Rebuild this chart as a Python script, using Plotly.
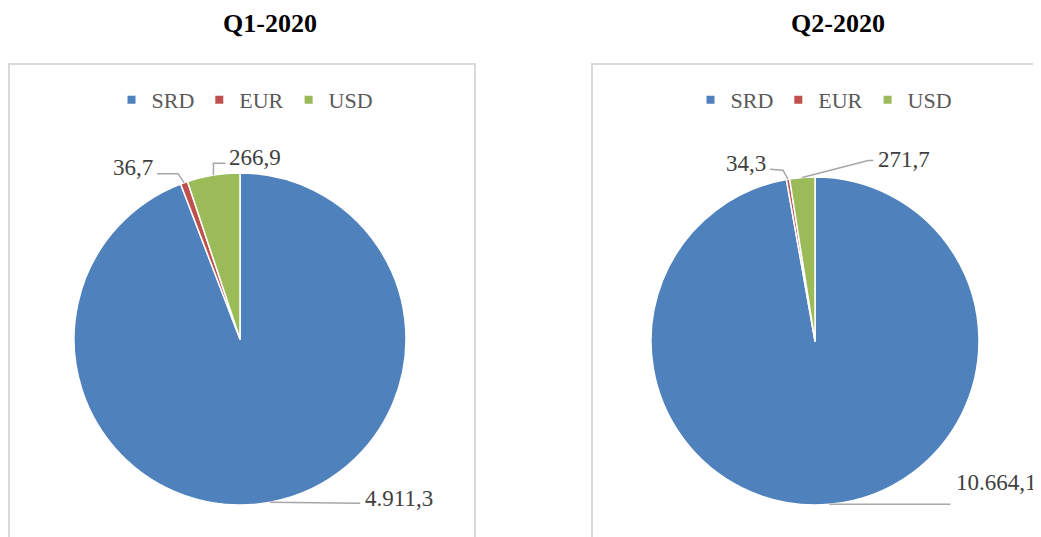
import math
import plotly.graph_objects as go

# ---------------- data ----------------
currencies = ["SRD", "EUR", "USD"]
q1_values = [4911.3, 36.7, 266.9]
q2_values = [10664.1, 34.3, 271.7]
titles = ["Q1-2020", "Q2-2020"]
colors = ["#4F81BD", "#C0504D", "#9BBB59"]

# ---------------- layout constants (pixels, page coordinates) ----------------
PAGE_W, PAGE_H = 1041, 537
OFF = 8  # default body margin of the html page
W, H = PAGE_W - OFF, PAGE_H - OFF
pie_geo = [dict(cx=240, cy=339, r=166), dict(cx=815, cy=341, r=164)]
title_x = [270, 838]
legend_pos = [(245, 100), (824, 100)]
boxes = [(9, 64, 475, 560), (592, 64, 1060, 560)]
# leader line bends (offsets from slice edge point) and label offsets/anchors
leaders = [
    [  # Q1: SRD, EUR, USD
        dict(path=[(90, 1)], text=(94, -4), anchor="left"),
        dict(path=[(-6, -9), (-27, -9)], text=(-30, -15), anchor="right"),
        dict(path=[(0, -12), (12, -12)], text=(15, -18), anchor="left"),
    ],
    [  # Q2
        dict(path=[(121, 0)], text=(209, -22), anchor="right"),
        dict(path=[(-5, -9), (-18, -10)], text=(-21, -16), anchor="right"),
        dict(path=[(66, -17), (71, -17)], text=(75, -18), anchor="left"),
    ],
]
SERIF = "Liberation Serif"


def fx(x):
    return (x - OFF) / W


def fy(y):
    return 1 - (y - OFF) / H


def eu_fmt(v):
    s = f"{v:,.1f}"
    return s.replace(",", "#").replace(".", ",").replace("#", ".")


fig = go.Figure()
series = [q1_values, q2_values]
for i, vals in enumerate(series):
    g = pie_geo[i]
    fig.add_trace(go.Pie(
        labels=currencies,
        values=vals,
        sort=False,
        direction="clockwise",
        rotation=0,
        marker=dict(colors=colors, line=dict(color="white", width=1.5)),
        textinfo="none",
        hoverinfo="label+value",
        domain=dict(x=[fx(g["cx"] - g["r"]), fx(g["cx"] + g["r"])],
                    y=[fy(g["cy"] + g["r"]), fy(g["cy"] - g["r"])]),
        showlegend=False,
    ))

# legend entries (one legend per chart)
for i in range(2):
    for name, col in zip(currencies, colors):
        fig.add_trace(go.Scatter(
            x=[None], y=[None], mode="markers", name=name,
            marker=dict(symbol="square", size=8, color=col),
            legend="legend" if i == 0 else "legend2",
            showlegend=True, hoverinfo="skip",
        ))

shapes = []
annotations = []
for i, vals in enumerate(series):
    g = pie_geo[i]
    total = sum(vals)
    cum = 0.0
    for j, v in enumerate(vals):
        theta = 2 * math.pi * (cum + v / 2) / total
        cum += v
        ex = g["cx"] + g["r"] * math.sin(theta)
        ey = g["cy"] - g["r"] * math.cos(theta)
        spec = leaders[i][j]
        d = f"M{fx(ex)},{fy(ey)}"
        for (dx, dy) in spec["path"]:
            d += f" L{fx(ex + dx)},{fy(ey + dy)}"
        shapes.append(dict(type="path", xref="paper", yref="paper", path=d,
                           line=dict(color="#A6A6A6", width=1.5)))
        tx, ty = spec["text"]
        annotations.append(dict(
            x=fx(ex + tx), y=fy(ey + ty), xref="paper", yref="paper",
            text=eu_fmt(v), showarrow=False,
            xanchor=spec["anchor"], yanchor="middle", borderpad=0,
            font=dict(family=SERIF, size=23, color="#404040"),
        ))

for (x0, y0, x1, y1) in boxes:
    shapes.append(dict(type="rect", xref="paper", yref="paper",
                       x0=fx(x0), x1=fx(x1), y0=fy(y1), y1=fy(y0),
                       line=dict(color="#D9D9D9", width=2), layer="below"))

for t, tx in zip(titles, title_x):
    annotations.append(dict(
        x=fx(tx), y=1, xref="paper", yref="paper", text=f"<b>{t}</b>",
        showarrow=False, xanchor="center", yanchor="top", borderpad=0,
        font=dict(family=SERIF, size=26, color="black"),
    ))

leg_common = dict(orientation="h", xanchor="center", yanchor="middle",
                  font=dict(family=SERIF, size=22, color="#595959"),
                  bgcolor="rgba(0,0,0,0)", itemwidth=30, tracegroupgap=0)

fig.update_layout(
    width=W, height=H,
    margin=dict(l=0, r=0, t=0, b=0),
    font=dict(family=SERIF),
    paper_bgcolor="white", plot_bgcolor="white",
    xaxis=dict(visible=False), yaxis=dict(visible=False),
    shapes=shapes, annotations=annotations,
    legend=dict(x=fx(legend_pos[0][0]), y=fy(legend_pos[0][1]), **leg_common),
    legend2=dict(x=fx(legend_pos[1][0]), y=fy(legend_pos[1][1]), **leg_common),
)

fig.write_html("out.html")
